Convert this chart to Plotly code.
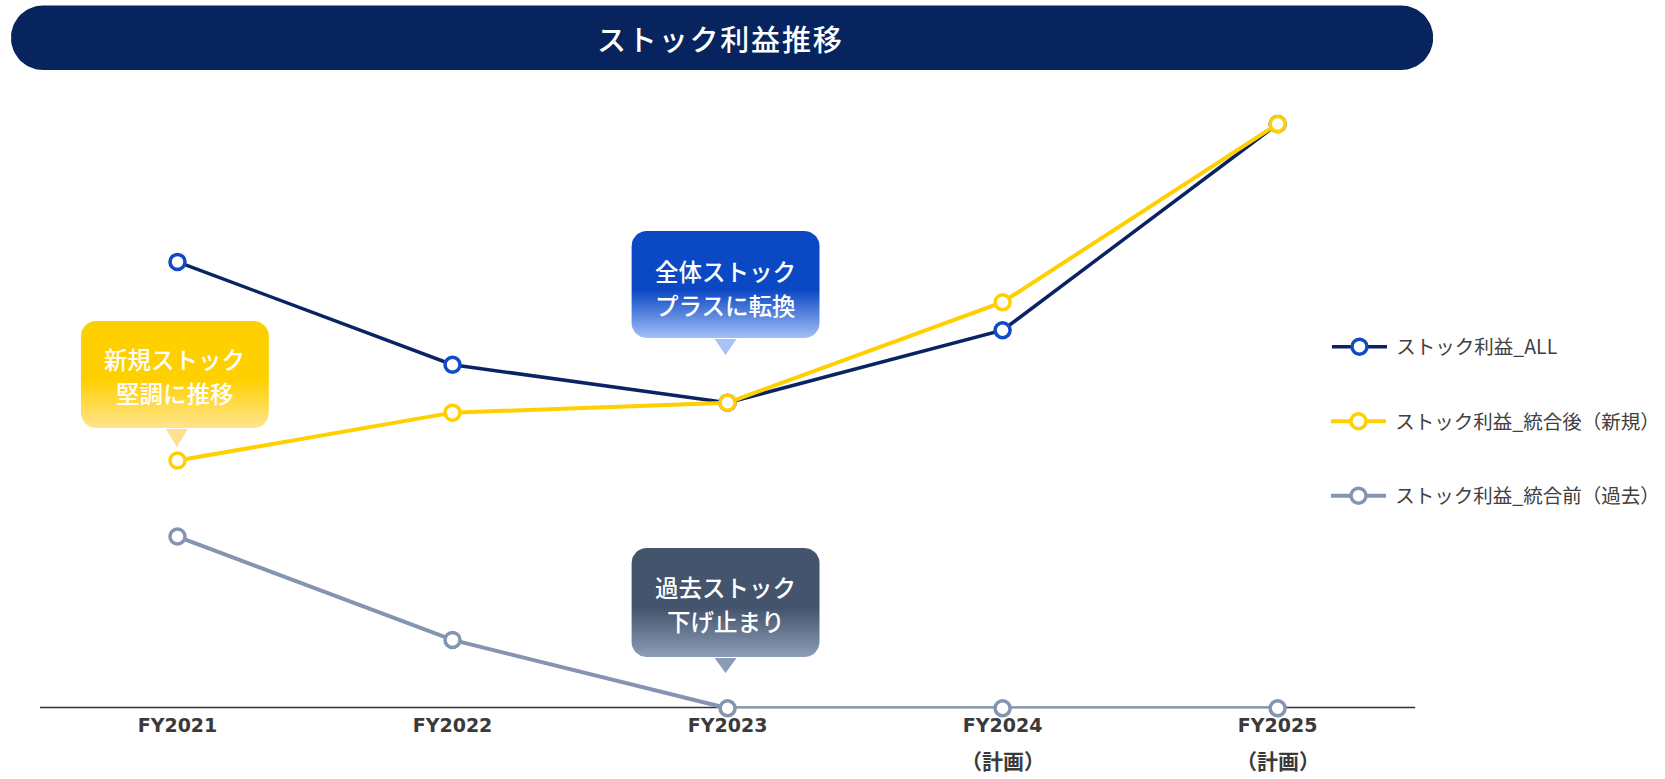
import plotly.graph_objects as go

W, H = 1665, 779

# ---- data ----
categories = ["FY2021", "FY2022", "FY2023", "FY2024", "FY2025"]
category_notes = ["", "", "", "（計画）", "（計画）"]
stock_all = [76.4, 58.8, 52.3, 64.7, 100.0]
stock_new = [42.4, 50.6, 52.3, 69.5, 100.0]
stock_old = [29.4, 11.7, 0.0, 0.0, 0.0]
series_names = ["ストック利益_ALL", "ストック利益_統合後（新規）", "ストック利益_統合前（過去）"]
title_text = "ストック利益推移"
callout_lines = [
    ["新規ストック", "堅調に推移"],
    ["全体ストック", "プラスに転換"],
    ["過去ストック", "下げ止まり"],
]
# (box pixels, tip pixel, text center y, bottom colour, top colour, tip colour)
callout_style = [
    ((81, 321, 269, 428), (177, 447), 376, "#FFE490", "#FFD000", "#FFE08E"),
    ((632, 231, 820, 338), (726, 355), 288, "#A3BFF6", "#0B48C4", "#A8C2F7"),
    ((632, 548, 820, 657), (726, 673), 604, "#8C9DB7", "#44546C", "#8A9BB5"),
]

NAVY = "#0A2463"
NAVY_MK = "#1149C8"
YEL = "#FFCF00"
GRAY = "#8395B1"

# pixel layout of the plot area
PX_L, PX_R = 40, 1416
PX_BASE, PX_TOP = 708.3, 90
PX_100 = 124
ytop = 100 * (PX_BASE - PX_TOP) / (PX_BASE - PX_100)


def rrect(x0, y0, x1, y1, r, n=10):
    import math
    pts = []
    corners = [
        (x1 - r, y0 + r, -90, 0),
        (x1 - r, y1 - r, 0, 90),
        (x0 + r, y1 - r, 90, 180),
        (x0 + r, y0 + r, 180, 270),
    ]
    for cx, cy, a0, a1 in corners:
        for i in range(n + 1):
            a = math.radians(a0 + (a1 - a0) * i / n)
            pts.append((cx + r * math.cos(a), cy + r * math.sin(a)))
    pts.append(pts[0])
    xs = [p[0] for p in pts]
    ys = [H - p[1] for p in pts]
    return xs, ys


fig = go.Figure()

# main series (draw order: old, all, new)
fig.add_trace(go.Scatter(
    x=categories, y=stock_old, name=" " + series_names[2], mode="lines+markers",
    line=dict(color=GRAY, width=4),
    marker=dict(symbol="circle", size=15, color="white", line=dict(color=GRAY, width=3.5)),
    cliponaxis=False, legend="legend3", xaxis="x", yaxis="y"))
fig.add_trace(go.Scatter(
    x=categories, y=stock_all, name=" " + series_names[0], mode="lines+markers",
    line=dict(color=NAVY, width=3.5),
    marker=dict(symbol="circle", size=15, color="white", line=dict(color=NAVY_MK, width=3.5)),
    cliponaxis=False, legend="legend", xaxis="x", yaxis="y"))
fig.add_trace(go.Scatter(
    x=categories, y=stock_new, name=" " + series_names[1], mode="lines+markers",
    line=dict(color=YEL, width=4),
    marker=dict(symbol="circle", size=15, color="white", line=dict(color=YEL, width=3.5)),
    cliponaxis=False, legend="legend2", xaxis="x", yaxis="y"))

# decorations on a pixel overlay
tx, ty = rrect(11, 5.5, 1434, 70, 32, n=16)
fig.add_trace(go.Scatter(x=tx, y=ty, fill="toself", fillcolor="#07245F", mode="lines",
                         line=dict(width=0, color="#07245F"), showlegend=False,
                         hoverinfo="skip", xaxis="x2", yaxis="y2"))

annotations = []
LINE_GAP = 34
for lines, ((x0, y0, x1, y1), (tipx, tipy), cy, cbot, ctop, ctri) in zip(callout_lines, callout_style):
    bx, by = rrect(x0, y0, x1, y1, 15)
    fig.add_trace(go.Scatter(
        x=bx, y=by, fill="toself", mode="lines", line=dict(width=0, color=ctop),
        fillgradient=dict(type="vertical", start=H - y1, stop=H - y0,
                          colorscale=[[0, cbot], [0.45, ctop], [1, ctop]]),
        showlegend=False, hoverinfo="skip", xaxis="x2", yaxis="y2"))
    fig.add_trace(go.Scatter(
        x=[tipx - 11, tipx + 11, tipx, tipx - 11],
        y=[H - y1 - 1, H - y1 - 1, H - tipy, H - y1 - 1],
        fill="toself", fillcolor=ctri, mode="lines", line=dict(width=0, color=ctri),
        showlegend=False, hoverinfo="skip", xaxis="x2", yaxis="y2"))
    for k, ln in enumerate(lines):
        yy = cy + (k - (len(lines) - 1) / 2) * LINE_GAP
        annotations.append(dict(
            x=(x0 + x1) / 2, y=H - yy, xref="x2", yref="y2", text=ln,
            showarrow=False, align="center", yanchor="middle",
            font=dict(family="Noto Sans CJK JP", size=23.5, color="white", weight=500)))

annotations.append(dict(
    x=720, y=H - 38, xref="x2", yref="y2", text="\u200a".join(title_text),
    showarrow=False, font=dict(family="Noto Sans CJK JP", size=29, color="white", weight=500)))

# second line of category labels
for c, note in zip(categories, category_notes):
    if note:
        annotations.append(dict(
            x=c, y=H - 760, xref="x", yref="y2", text=note, showarrow=False,
            yanchor="middle",
            font=dict(family="Noto Sans CJK JP", size=21, color="#3A3A3A", weight="bold")))

legend_common = dict(
    xanchor="left", yanchor="middle", bgcolor="rgba(0,0,0,0)", itemwidth=55,
    font=dict(family="Noto Sans CJK JP", size=19.5, color="#404040"))
legend_x = 1327 / W

fig.update_layout(
    width=W, height=H,
    margin=dict(l=0, r=0, t=0, b=0),
    paper_bgcolor="white", plot_bgcolor="rgba(0,0,0,0)",
    showlegend=True,
    legend=dict(x=legend_x, y=1 - 347 / H, **legend_common),
    legend2=dict(x=legend_x, y=1 - 421.5 / H, **legend_common),
    legend3=dict(x=legend_x, y=1 - 496 / H, **legend_common),
    xaxis=dict(domain=[PX_L / W, PX_R / W], range=[-0.5, 4.5], anchor="y",
               showgrid=False, zeroline=False, showline=False, ticks="",
               ticklabelstandoff=4, fixedrange=True,
               tickfont=dict(family="DejaVu Sans, Noto Sans CJK JP", size=19,
                             color="#3A3A3A", weight="bold")),
    yaxis=dict(domain=[(H - PX_BASE) / H, (H - PX_TOP) / H], range=[0, ytop], anchor="x",
               visible=False, fixedrange=True),
    xaxis2=dict(domain=[0, 1], range=[0, W], anchor="y2", visible=False, fixedrange=True),
    yaxis2=dict(domain=[0, 1], range=[0, H], anchor="x2", visible=False, fixedrange=True),
    annotations=annotations,
    shapes=[dict(type="line", xref="x domain", yref="y", x0=0, x1=1, y0=0, y1=0,
                 line=dict(color="#333333", width=3), layer="below")],
)

fig.write_html("out.html")
